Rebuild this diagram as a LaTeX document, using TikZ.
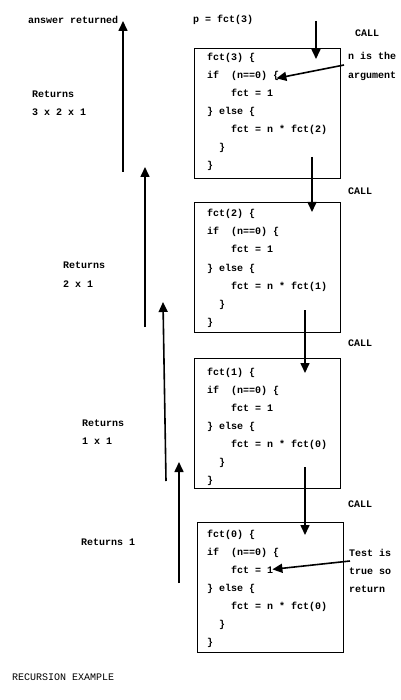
\documentclass[tikz,border=0pt]{standalone}
\usepackage{fontspec}
\setmonofont{Liberation Mono}
\usetikzlibrary{arrows.meta, positioning, calc}

\tikzset{
  code/.style={font=\ttfamily\bfseries\fontsize{10}{12}\selectfont, anchor=base west, inner sep=0pt},
  plain/.style={font=\ttfamily\fontsize{10}{12}\selectfont, anchor=base west, inner sep=0pt},
  frame/.style={draw, line width=0.8pt, minimum width=146pt, minimum height=130pt, anchor=north west, inner sep=0pt},
  arr/.style={line width=1.6pt, -{Triangle[width=9pt,length=10pt]}}
}

\begin{document}
\begin{tikzpicture}[x=1pt, y=-1pt]
\useasboundingbox (0,0) rectangle (400,700);
% One frame per call of fct
\foreach \n/\bx/\by/\ty/\nxt in {3/194/48/61/2, 2/194/202/217/1, 1/194/358/375/0, 0/197/522/537/0} {
    \node[frame] (box\n) at (\bx,\by) {};
    \node[code] (l\n-1) at (207,\ty) {fct(\n) \{};
    \node[code] (l\n-2) at (207,\ty+18) {if\ \ (n==0) \{};
    \node[code] (l\n-3) at (231,\ty+36) {fct = 1};
    \node[code] (l\n-4) at (207,\ty+54) {\} else \{};
    \node[code] (l\n-5) at (231,\ty+72) {fct = n * fct(\nxt)};
    \node[code] (l\n-6) at (219,\ty+90) {\}};
    \node[code] (l\n-7) at (207,\ty+108) {\}};
}
% Labels
\node[code] (start) at (193,23) {p = fct(3)};
\node[code] (answer) at (28,24) {answer returned};
\node[code] (call3) at (355,37) {CALL};
\node[code] (call2) at (348,195) {CALL};
\node[code] (call1) at (348,346) {CALL};
\node[code] (call0) at (348,507) {CALL};
\node[code] (ret3) at (32,98) {Returns};
\node[code] (val3) at (32,116) {3 x 2 x 1};
\node[code] (ret2) at (63,269) {Returns};
\node[code] (val2) at (63,287) {2 x 1};
\node[code] (ret1) at (82,426) {Returns};
\node[code] (val1) at (82,444) {1 x 1};
\node[code] (ret0) at (81,545) {Returns 1};
\node[code] (nis) at (348,60) {n is the};
\node[code] (argum) at (348,79) {argument};
\node[code] (test) at (349,556) {Test is};
\node[code] (true) at (349,574) {true so};
\node[code] (retn) at (349,592) {return};
\node[plain] (title) at (12,680) {RECURSION EXAMPLE};
% Free ends of the arrows
\coordinate (c3a) at (316,21);  \coordinate (c3b) at (316,59);
\coordinate (c2a) at (312,157); \coordinate (c2b) at (312,212);
\coordinate (c1a) at (305,310); \coordinate (c1b) at (305,373);
\coordinate (c0a) at (305,467); \coordinate (c0b) at (305,535);
\coordinate (r3a) at (123,172); \coordinate (r3b) at (123,21);
\coordinate (r2a) at (145,327); \coordinate (r2b) at (145,167);
\coordinate (r1a) at (166,481); \coordinate (r1b) at (163,302);
\coordinate (r0a) at (179,583); \coordinate (r0b) at (179,462);
\coordinate (ntail) at (344,65);
\coordinate (ttail) at (350,561);
% Calls going down
\draw[arr] (c3a) -- (c3b);
\draw[arr] (c2a) -- (c2b);
\draw[arr] (c1a) -- (c1b);
\draw[arr] (c0a) -- (c0b);
% Results going up
\draw[arr] (r3a) -- (r3b);
\draw[arr] (r2a) -- (r2b);
\draw[arr] (r1a) -- (r1b);
\draw[arr] (r0a) -- (r0b);
% Notes
\draw[arr] (ntail) -- ([xshift=-3pt,yshift=-2pt]l3-2.east);
\draw[arr] (ttail) -- ([xshift=-1pt]l0-3.east);
\end{tikzpicture}
\end{document}
